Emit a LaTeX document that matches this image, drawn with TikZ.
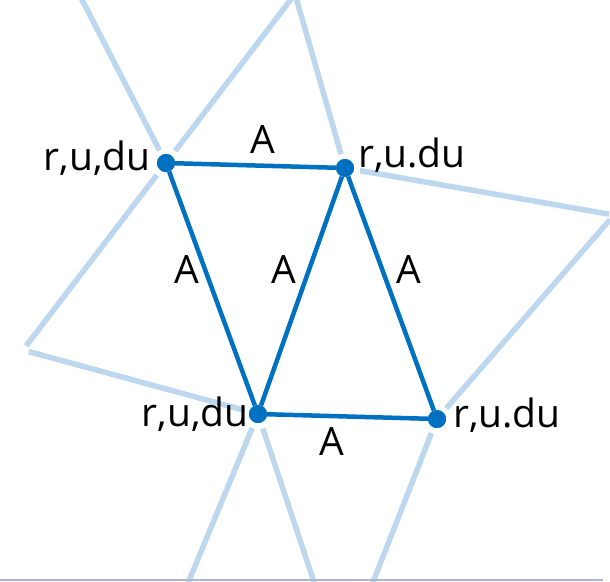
\documentclass[tikz,border=0pt]{standalone}
\usepackage{fontspec}
\setmainfont{Open Sans}
\usepackage{tikz}
\usetikzlibrary{positioning}
\definecolor{tblue}{RGB}{0,112,192}
\definecolor{tlight}{RGB}{189,215,238}
\definecolor{tframe}{RGB}{172,182,206}
\tikzset{
  vtx/.style  ={circle, fill=tblue, inner sep=0pt, minimum size=18pt},
  edge/.style ={draw=tblue, line width=4.5pt},
  ghost/.style={draw=tlight, line width=5.5pt, shorten <=6pt, shorten >=5pt},
  lbl/.style  ={inner sep=0pt, font=\fontsize{39}{42}\selectfont}
}
\begin{document}
\begin{tikzpicture}[x=1pt, y=-1pt]
\clip (0,0) rectangle (610,581);
% vertices
\node[vtx] (p1) at (166,163) {};
\node[vtx] (p2) at (345,168) {};
\node[vtx] (p3) at (258,414) {};
\node[vtx] (p4) at (437,419) {};
% outer ends of the light grid
\coordinate (tl) at (77,-10);
\coordinate (tt) at (295,-6);
\coordinate (rr) at (614,215);
\coordinate (ll) at (23,350);
\coordinate (b1) at (181,600);
\coordinate (b2) at (320,600);
\coordinate (b3) at (366,600);
% light grid
\draw[ghost, shorten <=0pt] (tl) -- (p1);
\draw[ghost] (p1) -- (tt);
\draw[ghost] (tt) -- (p2);
\draw[ghost] (p2) -- (rr);
\draw[ghost] (rr) -- (p4);
\draw[ghost] (p1) -- (ll);
\draw[ghost] (ll) -- (p3);
\draw[ghost, shorten >=0pt] (p3) -- (b1);
\draw[ghost, shorten >=0pt] (p3) -- (b2);
\draw[ghost, shorten >=0pt] (p4) -- (b3);
% dark triangles
\draw[edge] (p1) -- (p2);
\draw[edge] (p1) -- (p3);
\draw[edge] (p2) -- (p3);
\draw[edge] (p2) -- (p4);
\draw[edge] (p3) -- (p4);
\node[vtx] at (p1) {};
\node[vtx] at (p2) {};
\node[vtx] at (p3) {};
\node[vtx] at (p4) {};
% labels
\node[lbl, anchor=base east] (n1) at (151,170) {r,u,du};
\node[lbl, anchor=base west] (n2) at (358,167) {r,u.du};
\node[lbl, anchor=base east] (n3) at (249,426) {r,u,du};
\node[lbl, anchor=base west] (n4) at (453,427) {r,u.du};
\node[lbl] (a1) at (263,140) {A};
\node[lbl] (a2) at (187,270) {A};
\node[lbl] (a3) at (284,270) {A};
\node[lbl] (a4) at (409,270) {A};
\node[lbl] (a5) at (332,442) {A};
% frame edge
\draw[tframe, line width=1.5pt] (0,580) -- (603,580);
\end{tikzpicture}
\end{document}
